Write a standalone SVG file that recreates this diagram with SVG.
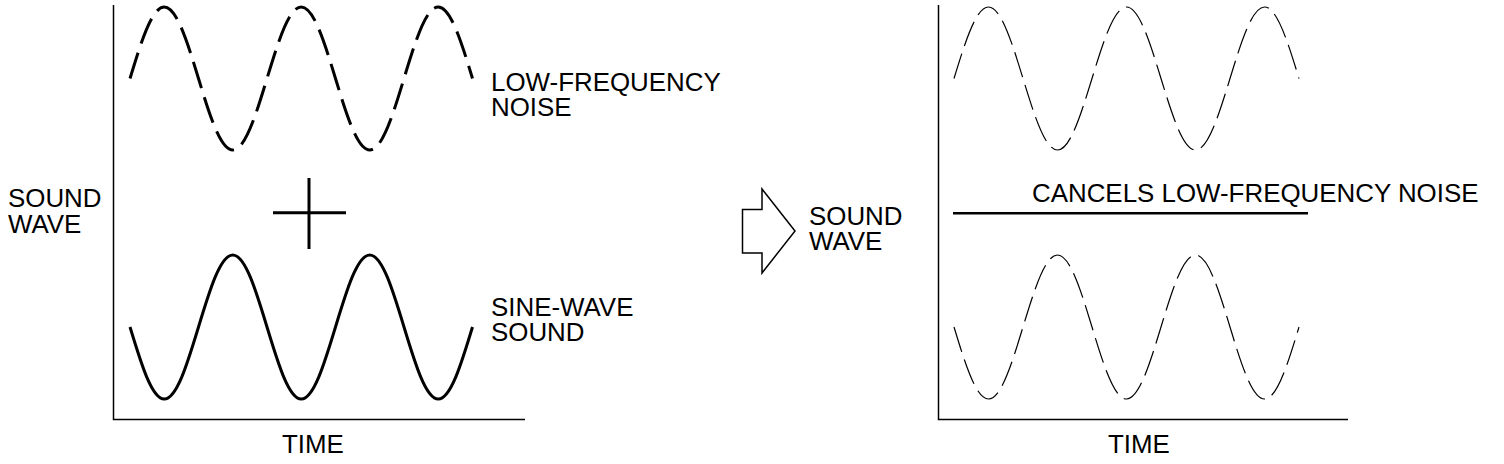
<svg xmlns="http://www.w3.org/2000/svg" width="1504" height="464" viewBox="0 0 1504 464">
<style>
.t{font-family:"Liberation Sans",Arial,sans-serif;font-size:25.9px;fill:#000}
.axis{stroke:#000;stroke-width:1.5;fill:none}
.thick{stroke:#000;stroke-width:3;fill:none}
.thickdash{stroke:#000;stroke-width:3;fill:none;stroke-dasharray:27 9.5}
.thindash{stroke:#000;stroke-width:1.2;fill:none;stroke-dasharray:26 8}
</style>
<rect width="1504" height="464" fill="#fff"/>
<g id="left-panel">
  <path class="axis" d="M113.5,5 V419.5 H525"/>
  <text class="t" x="8" y="207">SOUND</text>
  <text class="t" x="8" y="233">WAVE</text>
  <text class="t" x="282" y="453">TIME</text>
</g>
<g id="low-frequency-noise">
  <path class="thickdash" d="M130,78.5 C141.17,41.87 151.85,7 164.25,7 S187.33,41.87 198.5,78.5 S220.35,150 232.75,150 S255.83,115.13 267,78.5 S288.85,7 301.25,7 S324.33,41.87 335.5,78.5 S357.35,150 369.75,150 S392.83,115.13 404,78.5 S425.85,7 438.25,7 S461.33,41.87 472.5,78.5"/>
  <text class="t" x="491" y="91">LOW-FREQUENCY</text>
  <text class="t" x="491" y="116">NOISE</text>
</g>
<g id="plus">
  <path class="thick" d="M273,212.7 H346 M309,178 V249"/>
</g>
<g id="sine-wave-sound">
  <path class="thick" d="M130,327 C141.17,363.89 151.85,399 164.25,399 S187.33,363.89 198.5,327 S220.35,255 232.75,255 S255.83,290.11 267,327 S288.85,399 301.25,399 S324.33,363.89 335.5,327 S357.35,255 369.75,255 S392.83,290.11 404,327 S425.85,399 438.25,399 S461.33,363.89 472.5,327"/>
  <text class="t" x="491" y="316">SINE-WAVE</text>
  <text class="t" x="491" y="341">SOUND</text>
</g>
<g id="connectors">
  <polygon points="742.5,209.5 762,209.5 762,189 795,231 762,273 762,253 742.5,253" fill="#fff" stroke="#000" stroke-width="1.5" stroke-linejoin="miter"/>
</g>
<g id="result-label">
  <text class="t" x="809" y="225">SOUND</text>
  <text class="t" x="809" y="250">WAVE</text>
</g>
<g id="right-panel">
  <path class="axis" d="M938.5,5 V419.5 H1348"/>
  <path class="thindash" d="M954,78.5 C965.25,41.87 976.01,7 988.5,7 S1011.75,41.87 1023,78.5 S1045.01,150 1057.5,150 S1080.75,115.13 1092,78.5 S1114.01,7 1126.5,7 S1149.75,41.87 1161,78.5 S1183.01,150 1195.5,150 S1218.75,115.13 1230,78.5 S1252.01,7 1264.5,7 S1287.75,41.87 1299,78.5"/>
  <path class="thindash" d="M954,327 C965.25,363.89 976.01,399 988.5,399 S1011.75,363.89 1023,327 S1045.01,255 1057.5,255 S1080.75,290.11 1092,327 S1114.01,399 1126.5,399 S1149.75,363.89 1161,327 S1183.01,255 1195.5,255 S1218.75,290.11 1230,327 S1252.01,399 1264.5,399 S1287.75,363.89 1299,327"/>
  <line x1="953" y1="213.3" x2="1308" y2="213.3" stroke="#000" stroke-width="2.5"/>
  <text class="t" x="1032" y="201.5">CANCELS LOW-FREQUENCY NOISE</text>
  <text class="t" x="1108" y="453">TIME</text>
</g>
</svg>
